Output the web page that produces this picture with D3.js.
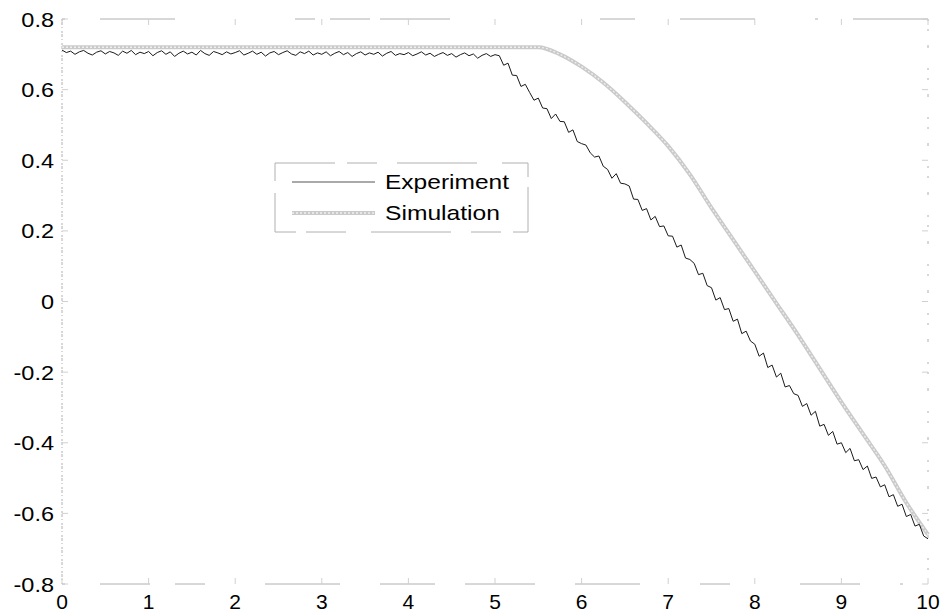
<!DOCTYPE html>
<html>
<head>
<meta charset="utf-8">
<script src="https://cdn.jsdelivr.net/npm/d3@7"></script>
<style>
  html, body { margin: 0; padding: 0; background: #fff; }
  svg text { font-family: "Liberation Sans", Arial, sans-serif; fill: #000; }
</style>
</head>
<body>
<svg id="chart" width="946" height="616"></svg>
<script>
// Measured response, sampled every 0.05 s from 0 to 10
const expStep = 0.05;
const experiment = [
  0.712,0.705,0.709,0.700,0.707,0.711,0.703,0.698,0.706,0.710,0.701,0.708,0.704,0.697,0.709,0.703,0.711,0.699,0.706,0.702,
  0.708,0.696,0.705,0.710,0.700,0.707,0.694,0.703,0.709,0.701,0.706,0.698,0.711,0.702,0.697,0.708,0.704,0.699,0.707,0.701,
  0.705,0.710,0.698,0.703,0.709,0.700,0.706,0.695,0.704,0.708,0.699,0.705,0.710,0.701,0.697,0.707,0.702,0.709,0.698,0.704,
  0.700,0.707,0.696,0.703,0.708,0.699,0.705,0.694,0.702,0.707,0.698,0.704,0.700,0.706,0.695,0.703,0.708,0.697,0.702,0.699,
  0.705,0.696,0.701,0.707,0.698,0.703,0.694,0.700,0.705,0.697,0.702,0.692,0.699,0.704,0.696,0.701,0.689,0.697,0.702,0.694,
  0.699,
  0.696,0.669,0.675,0.641,0.640,0.609,0.615,0.592,0.570,0.576,
  0.548,0.546,0.518,0.531,0.510,0.509,0.479,0.486,0.453,0.447,
  0.443,0.421,0.409,0.412,0.383,0.374,0.349,0.362,0.335,0.333,
  0.327,0.290,0.289,0.258,0.263,0.231,0.241,0.212,0.214,0.186,
  0.185,0.154,0.160,0.123,0.119,0.108,0.076,0.080,0.045,0.039,
  0.004,0.011,-0.023,-0.020,-0.056,-0.050,-0.091,-0.084,-0.112,-0.121,
  -0.155,-0.146,-0.187,-0.180,-0.214,-0.203,-0.242,-0.238,-0.261,-0.266,
  -0.297,-0.289,-0.322,-0.311,-0.353,-0.348,-0.379,-0.368,-0.404,-0.400,
  -0.428,-0.416,-0.451,-0.448,-0.476,-0.466,-0.501,-0.497,-0.525,-0.519,
  -0.553,-0.547,-0.580,-0.574,-0.609,-0.603,-0.636,-0.631,-0.664,-0.672
];

// Simulated response (time, value)
const simTime  = [0, 1, 2, 3, 4, 5, 5.5, 5.75, 6, 6.25, 6.5, 6.75, 7, 7.25, 7.5, 7.75, 8, 8.25, 8.5, 8.75, 9, 9.25, 9.5, 9.75, 10];
const simValue = [0.72, 0.72, 0.72, 0.72, 0.72, 0.72, 0.72, 0.70, 0.665, 0.62, 0.565, 0.505, 0.44, 0.36, 0.265, 0.175, 0.085, -0.005, -0.095, -0.19, -0.285, -0.375, -0.465, -0.57, -0.66];

const xTicks = [0, 1, 2, 3, 4, 5, 6, 7, 8, 9, 10];
const yTicks = [-0.8, -0.6, -0.4, -0.2, 0, 0.2, 0.4, 0.6, 0.8];
const seriesNames = ["Experiment", "Simulation"];

const svg = d3.select("#chart");
const plot = { left: 62, right: 928, top: 19, bottom: 584 };

const x = d3.scaleLinear().domain([0, 10]).range([plot.left, plot.right]);
const y = d3.scaleLinear().domain([-0.8, 0.8]).range([plot.bottom, plot.top]);

const frameColor = "#b0b0b0";

// Axis frame: thin, broken grey edges
const frame = svg.append("g").attr("fill", "none").attr("stroke", frameColor).attr("stroke-width", 1);
frame.append("line").attr("x1", plot.left).attr("x2", plot.right).attr("y1", plot.top).attr("y2", plot.top)
  .attr("stroke-dasharray", "3,35,75,120,20,15,40,10,70,150,35,45,75,60");
frame.append("line").attr("x1", plot.left).attr("x2", plot.right).attr("y1", plot.bottom).attr("y2", plot.bottom)
  .attr("stroke-dasharray", "3,35,50,25,30,60,75,40,55,30,70,40,65,60,30,70,60,40");
frame.append("line").attr("x1", plot.left).attr("x2", plot.left).attr("y1", plot.top).attr("y2", plot.bottom)
  .attr("stroke-dasharray", "2,1,3,2,1,3");
frame.append("line").attr("x1", plot.right).attr("x2", plot.right).attr("y1", plot.top).attr("y2", plot.bottom)
  .attr("stroke-dasharray", "2,8,2,14,3,20");

// Faint inward ticks on all four sides
const tickLen = 6;
const ticks = svg.append("g").attr("stroke", "#d0d0d0").attr("stroke-width", 1);
xTicks.forEach(t => {
  ticks.append("line").attr("x1", x(t)).attr("x2", x(t)).attr("y1", plot.bottom).attr("y2", plot.bottom - tickLen);
  ticks.append("line").attr("x1", x(t)).attr("x2", x(t)).attr("y1", plot.top).attr("y2", plot.top + tickLen);
});
yTicks.forEach(v => {
  ticks.append("line").attr("x1", plot.left).attr("x2", plot.left + tickLen).attr("y1", y(v)).attr("y2", y(v));
  ticks.append("line").attr("x1", plot.right).attr("x2", plot.right - tickLen).attr("y1", y(v)).attr("y2", y(v));
});

// Tick labels
svg.append("g").selectAll("text").data(xTicks).join("text")
  .attr("x", d => x(d)).attr("y", 609)
  .attr("text-anchor", "middle").attr("font-size", 21)
  .text(d => d3.format("")(d));

svg.append("g").selectAll("text").data(yTicks).join("text")
  .attr("transform", d => `translate(54,${y(d) + 7.5}) scale(1.12,1)`)
  .attr("text-anchor", "end").attr("font-size", 21)
  .text(d => d === 0 ? "0" : d3.format(".1f")(d).replace("−", "-"));

// Simulation line: wide light-grey stroke with a stippled core
const simData = simTime.map((t, i) => [t, simValue[i]]);
const simLine = d3.line().x(d => x(d[0])).y(d => y(d[1])).curve(d3.curveMonotoneX);
svg.append("path").datum(simData).attr("d", simLine)
  .attr("fill", "none").attr("stroke", "#cacaca").attr("stroke-width", 4);
svg.append("path").datum(simData).attr("d", simLine)
  .attr("fill", "none").attr("stroke", "#efefef").attr("stroke-width", 1.3)
  .attr("stroke-dasharray", "2,2");

// Experiment line
const expData = experiment.map((v, i) => [i * expStep, v]);
svg.append("path").datum(expData)
  .attr("d", d3.line().x(d => x(d[0])).y(d => y(d[1])))
  .attr("fill", "none").attr("stroke", "#1a1a1a").attr("stroke-width", 1);

// Legend
const legend = svg.append("g");
legend.append("rect").attr("x", 275).attr("y", 163).attr("width", 253).attr("height", 69)
  .attr("fill", "#fff").attr("stroke", frameColor).attr("stroke-width", 1)
  .attr("stroke-dasharray", "60,12,30,20,80,25,40,10");
legend.append("line").attr("x1", 292).attr("x2", 375).attr("y1", 182).attr("y2", 182)
  .attr("stroke", "#555").attr("stroke-width", 1);
legend.append("line").attr("x1", 292).attr("x2", 375).attr("y1", 213).attr("y2", 213)
  .attr("stroke", "#cacaca").attr("stroke-width", 4);
legend.append("line").attr("x1", 292).attr("x2", 375).attr("y1", 213).attr("y2", 213)
  .attr("stroke", "#efefef").attr("stroke-width", 1.3).attr("stroke-dasharray", "2,2");
legend.append("text").attr("x", 385).attr("y", 189).attr("font-size", 21)
  .attr("textLength", 124).attr("lengthAdjust", "spacingAndGlyphs").text(seriesNames[0]);
legend.append("text").attr("x", 385).attr("y", 220).attr("font-size", 21)
  .attr("textLength", 115).attr("lengthAdjust", "spacingAndGlyphs").text(seriesNames[1]);
</script>
</body>
</html>
